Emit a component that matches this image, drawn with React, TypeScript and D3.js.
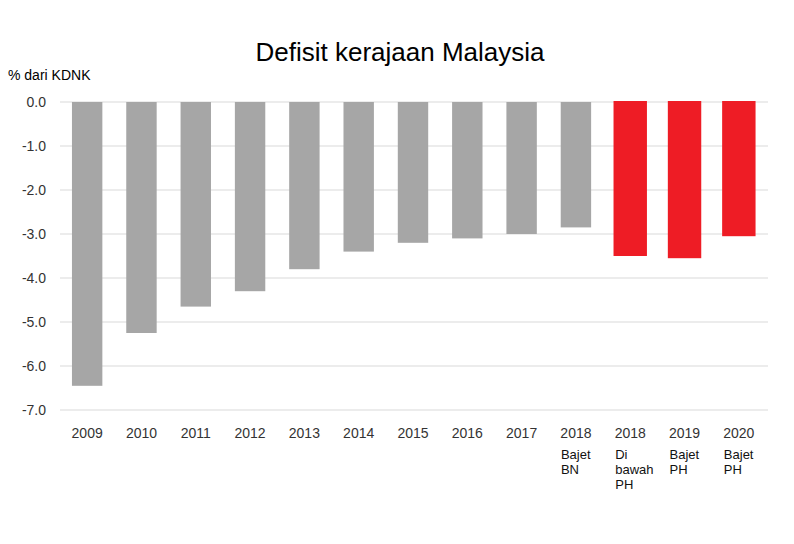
import React from "react";
import * as d3 from "d3";

const categories = ["2009", "2010", "2011", "2012", "2013", "2014", "2015", "2016", "2017", "2018", "2018b", "2019", "2020"];
const yearLabels = ["2009", "2010", "2011", "2012", "2013", "2014", "2015", "2016", "2017", "2018", "2018", "2019", "2020"];
const values = [-6.45, -5.25, -4.65, -4.3, -3.8, -3.4, -3.2, -3.1, -3.0, -2.85, -3.5, -3.55, -3.05];
const subLabels = ["", "", "", "", "", "", "", "", "", "Bajet\nBN", "Di\nbawah\nPH", "Bajet\nPH", "Bajet\nPH"];
const isPH = [false, false, false, false, false, false, false, false, false, false, true, true, true];
const yTicks = [0, -1, -2, -3, -4, -5, -6, -7];

export default function App() {
  const W = 794, H = 544;
  const x = d3.scaleBand<string>().domain(categories).range([60, 766]).paddingInner(0.44).paddingOuter(0.22);
  const y = d3.scaleLinear().domain([-7, 0]).range([410, 102]);
  const font = "'Liberation Sans', Arial, sans-serif";
  return (
    <svg width={W} height={H} style={{ position: "absolute", left: 0, top: 0 }} fontFamily={font}>
      <rect width={W} height={H} fill="#fff" />
      <text x={400} y={61} textAnchor="middle" fontSize={26}>Defisit kerajaan Malaysia</text>
      <text x={8} y={80} fontSize={14}>% dari KDNK</text>
      {yTicks.map((t) => (
        <g key={t}>
          <line x1={60} x2={768} y1={y(t)} y2={y(t)} stroke="#d9d9d9" strokeWidth={1} />
          <text x={46} y={y(t) + 5} textAnchor="end" fontSize={14} fill="#333">{t.toFixed(1)}</text>
        </g>
      ))}
      {categories.map((c, i) => {
        const bw = x.bandwidth() + (isPH[i] ? 3 : 0);
        const cx = x(c)! + x.bandwidth() / 2;
        return (
          <g key={c}>
            <rect x={cx - bw / 2} y={y(0) - (isPH[i] ? 1 : 0)} width={bw} height={y(values[i]) - y(0) + (isPH[i] ? 1 : 0)}
              fill={isPH[i] ? "#ee1c25" : "#a6a6a6"} />
            <text x={cx} y={438} textAnchor="middle" fontSize={14} fill="#333">{yearLabels[i]}</text>
            {subLabels[i].split("\n").filter(Boolean).map((s, j) => (
              <text key={j} x={cx - 15} y={459 + j * 15} fontSize={13} fill="#111">{s}</text>
            ))}
          </g>
        );
      })}
    </svg>
  );
}
